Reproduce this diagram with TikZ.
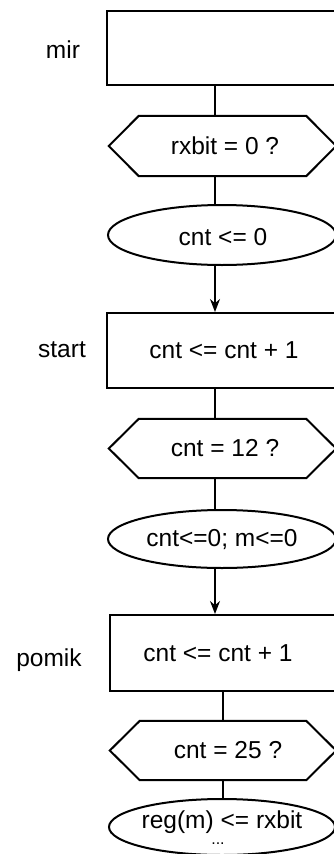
\documentclass[tikz,border=0pt]{standalone}
\usepackage{fontspec}
\setmainfont{Liberation Sans}
\usetikzlibrary{shapes.geometric,arrows.meta}
\tikzset{
  boxn/.style={draw=black,line width=2pt,rectangle,inner sep=0pt,minimum width=240pt,minimum height=74pt},
  hexn/.style={draw=none,rectangle,inner sep=0pt,minimum width=227pt,minimum height=60pt},
  hexline/.style={draw=black,line width=2pt,line join=miter},
  elln/.style={draw=black,line width=2pt,ellipse,inner sep=0pt,minimum width=228pt,minimum height=60pt},
  txt/.style={inner sep=0pt,font=\fontsize{24.5}{28}\selectfont},
  conn/.style={draw=black,line width=2pt},
  arr/.style={draw=black,line width=1.3pt,-{Stealth[length=13pt,width=10pt]}}
}
\newcommand{\hexdraw}[1]{\draw[hexline] ([xshift=30pt]#1.north west) -- ([xshift=-30pt]#1.north east) -- (#1.east) -- ([xshift=-30pt]#1.south east) -- ([xshift=30pt]#1.south west) -- (#1.west) -- cycle;}
\begin{document}
\begin{tikzpicture}[x=1pt,y=-1pt]
\useasboundingbox (0,0) rectangle (334,854);
\fill[white] (0,0) rectangle (334,854);
\clip (0,0) rectangle (334,854);
% block 1
\node[boxn] (b1) at (227,48) {};
\node[txt] (l1) at (63,50) {mir};
\node[hexn] (h1) at (222.5,146) {};
\hexdraw{h1}
\node[txt] (t1) at (225,146) {rxbit = 0 ?};
\node[elln] (e1) at (222,235) {};
\node[txt] (te1) at (223,237) {cnt <= 0};
% block 2
\node[boxn,minimum height=75pt] (b2) at (227,350.5) {};
\node[txt] (l2) at (62,350) {start};
\node[txt] (t2) at (224,350) {cnt <= cnt + 1};
\node[hexn,minimum height=59pt] (h2) at (222.5,448.5) {};
\hexdraw{h2}
\node[txt] (th2) at (225,448) {cnt = 12 ?};
\node[elln,minimum height=58pt] (e2) at (222,539) {};
\node[txt] (te2) at (222,540) {cnt<=0; m<=0};
% block 3
\node[boxn,minimum width=236pt,minimum height=76pt] (b3) at (228,653) {};
\node[txt] (l3) at (49,660) {pomik};
\node[txt] (t3) at (218,653) {cnt <= cnt + 1};
\node[hexn,minimum width=226pt,minimum height=59pt] (h3) at (223,750.5) {};
\hexdraw{h3}
\node[txt] (th3) at (228,750) {cnt = 25 ?};
\node[elln,minimum width=226pt,minimum height=56pt] (e3) at (222,827) {};
\node[txt] (te3) at (222,822) {reg(m) <= rxbit};
\node[txt,font=\fontsize{16}{18}\selectfont] (d3) at (218,844) {...};
% connectors
\draw[conn] (b1.south -| 215,0) -- (h1.north -| 215,0);
\draw[conn] (h1.south -| 215,0) -- (e1.north -| 215,0);
\draw[arr] (215,265) -- (b2.north -| 215,0);
\draw[conn] (b2.south -| 215,0) -- (h2.north -| 215,0);
\draw[conn] (h2.south -| 215,0) -- (e2.north -| 215,0);
\draw[arr] (215,568) -- (b3.north -| 215,0);
\draw[conn] (b3.south -| 223,0) -- (h3.north -| 223,0);
\draw[conn] (h3.south -| 223,0) -- (e3.north -| 223,0);
\end{tikzpicture}
\end{document}
